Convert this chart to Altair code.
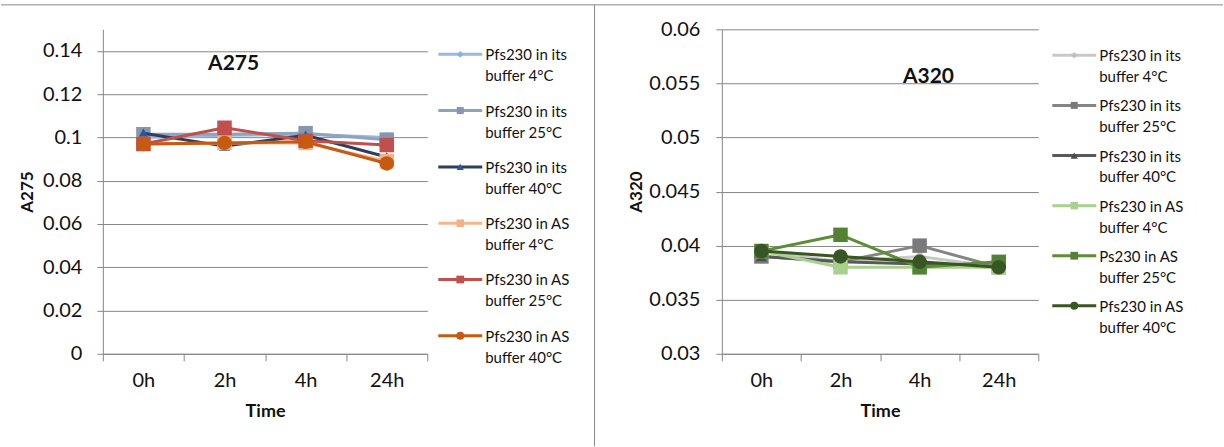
import altair as alt
import pandas as pd

times = ["0h", "2h", "4h", "24h"]

labels_275 = [
    "Pfs230 in its\nbuffer 4°C",
    "Pfs230 in its\nbuffer 25°C",
    "Pfs230 in its\nbuffer 40°C",
    "Pfs230 in AS\nbuffer 4°C",
    "Pfs230 in AS\nbuffer 25°C",
    "Pfs230 in AS\nbuffer 40°C",
]
labels_320 = [
    "Pfs230 in its\nbuffer 4°C",
    "Pfs230 in its\nbuffer 25°C",
    "Pfs230 in its\nbuffer 40°C",
    "Pfs230 in AS\nbuffer 4°C",
    "Ps230 in AS\nbuffer 25°C",
    "Pfs230 in AS\nbuffer 40°C",
]

# A275 values
a275_its_4 = [0.100, 0.101, 0.1015, 0.100]
a275_its_25 = [0.1015, 0.1015, 0.102, 0.099]
a275_its_40 = [0.102, 0.096, 0.101, 0.091]
a275_as_4 = [0.097, 0.0975, 0.0975, 0.089]
a275_as_25 = [0.097, 0.1045, 0.0985, 0.0965]
a275_as_40 = [0.097, 0.0975, 0.098, 0.088]

# A320 values
a320_its_4 = [0.0395, 0.0385, 0.039, 0.038]
a320_its_25 = [0.039, 0.0385, 0.040, 0.038]
a320_its_40 = [0.039, 0.0385, 0.0383, 0.038]
a320_as_4 = [0.0395, 0.038, 0.038, 0.038]
a320_as_25 = [0.0395, 0.041, 0.038, 0.0385]
a320_as_40 = [0.0395, 0.039, 0.0385, 0.038]

ticks_275 = [0, 0.02, 0.04, 0.06, 0.08, 0.1, 0.12, 0.14]
ticks_320 = [0.03, 0.035, 0.04, 0.045, 0.05, 0.055, 0.06]

# styles
line_275 = ["#9AB8E2", "#8FA3BD", "#2E3E5A", "#F8B68C", "#C0504D", "#C55A11"]
mark_275 = ["#8EB0E0", "#8496B0", "#2F5597", "#F4B183", "#C0504D", "#C55A11"]
line_320 = ["#C8C8C8", "#858585", "#595959", "#A9D18E", "#5C8E34", "#38561F"]
mark_320 = ["#C0C0C0", "#7A7A7A", "#4D4D4D", "#A9D18E", "#548235", "#375623"]
shapes = ["diamond", "square", "triangle-up", "square", "square", "circle"]
plot_sizes = [120, 210, 120, 210, 210, 210]
legend_sizes = [45, 64, 50, 64, 64, 70]

FONT = "Lato"
GRID = "#868686"
TXT = "#111111"


def panel(labels, series_vals, line_cols, mark_cols, ydomain, yticks, ytitle,
          title_text, W, H, title_xy, leg_x, leg_range, ylab_pad, ytitle_pad,
          borders=False):
    rows = []
    for lab, vals in zip(labels, series_vals):
        for t, v in zip(times, vals):
            rows.append({"series": lab, "time": t, "value": v})
    df = pd.DataFrame(rows)

    x_enc = alt.X(
        "time:N",
        bandPosition=0.5,
        scale=alt.Scale(type="band", domain=times, paddingInner=0, paddingOuter=0),
        axis=alt.Axis(
            title="Time", labelAngle=0, tickBand="extent", grid=False,
            domainColor=GRID, tickColor=GRID, tickSize=7,
            labelFont=FONT, labelFontSize=20, labelColor=TXT, labelPadding=10,
            titleFont=FONT, titleFontSize=18, titleFontWeight="bold",
            titleColor=TXT, titlePadding=12,
        ),
    )
    y_enc = alt.Y(
        "value:Q",
        scale=alt.Scale(domain=ydomain, nice=False, zero=False),
        axis=alt.Axis(
            values=yticks, format="~g", grid=True, gridColor=GRID, gridOpacity=1,
            domainColor=GRID, tickColor=GRID, tickSize=6,
            labelFont=FONT, labelFontSize=20, labelColor=TXT, labelPadding=ylab_pad,
            title=ytitle, titleFont=FONT, titleFontSize=17, titleFontWeight="bold",
            titleColor=TXT, titlePadding=ytitle_pad,
        ),
    )
    base = alt.Chart(df)
    data_layers = []
    for i, lab in enumerate(labels):
        sub = base.transform_filter(alt.datum.series == lab)
        data_layers.append(
            sub.mark_line(color=line_cols[i], strokeWidth=3, strokeJoin="round")
            .encode(x=x_enc, y=y_enc)
        )
        data_layers.append(
            sub.mark_point(shape=shapes[i], filled=True, fill=mark_cols[i],
                           opacity=1, size=plot_sizes[i], strokeWidth=0)
            .encode(x=x_enc, y=y_enc)
        )

    title_layer = alt.Chart(pd.DataFrame({"t": [title_text]})).mark_text(
        font=FONT, fontSize=21, fontWeight="bold", color=TXT
    ).encode(x=alt.value(title_xy[0]), y=alt.value(title_xy[1]), text="t:N")
    data_layers.append(title_layer)

    if borders:
        one = alt.Chart(pd.DataFrame({"k": [0]}))
        data_layers.append(
            one.mark_rule(color="#8A8A8A", strokeWidth=1).encode(
                x=alt.value(-102), x2=alt.value(1122), y=alt.value(-24.5)
            )
        )
        data_layers.append(
            one.mark_rule(color="#8A8A8A", strokeWidth=1).encode(
                x=alt.value(492.5), y=alt.value(-24.5), y2=alt.value(417.5)
            )
        )

    leg_df = pd.DataFrame({"series": labels})
    ly = alt.Y("series:N", scale=alt.Scale(type="point", domain=labels,
                                           range=leg_range, padding=0), axis=None)
    lcol = alt.Color("series:N", scale=alt.Scale(domain=labels, range=line_cols), legend=None)
    lfill = alt.Fill("series:N", scale=alt.Scale(domain=labels, range=mark_cols), legend=None)
    lshape = alt.Shape("series:N", scale=alt.Scale(domain=labels, range=shapes), legend=None)
    lsize = alt.Size("series:N", scale=alt.Scale(domain=labels, range=legend_sizes), legend=None)
    lb = alt.Chart(leg_df)
    legend_layers = [
        lb.mark_rule(strokeWidth=3).encode(
            x=alt.value(leg_x), x2=alt.value(leg_x + 44), y=ly, color=lcol
        ),
        lb.mark_point(filled=True, opacity=1, strokeWidth=0).encode(
            x=alt.value(leg_x + 22), y=ly, fill=lfill, shape=lshape, size=lsize
        ),
        lb.mark_text(font=FONT, fontSize=15, color=TXT, align="left",
                     baseline="top", dy=-6, lineBreak="\n", lineHeight=21).encode(
            x=alt.value(leg_x + 47), y=ly, text="series:N"
        ),
    ]

    return alt.layer(
        alt.layer(*data_layers), alt.layer(*legend_layers)
    ).resolve_scale(y="independent").properties(width=W, height=H)


left = panel(
    labels_275,
    [a275_its_4, a275_its_25, a275_its_40, a275_as_4, a275_as_25, a275_as_40],
    line_275, mark_275, [0, 0.15], ticks_275, "A275", "A275",
    325, 325, (131, 35), 336, [25, 307], 15, 6, borders=True,
)
right = panel(
    labels_320,
    [a320_its_4, a320_its_25, a320_its_40, a320_as_4, a320_as_25, a320_as_40],
    line_320, mark_320, [0.03, 0.06], ticks_320, "A320", "A320",
    317, 325, (207, 48), 331, [26, 277], 16, 3,
)

chart = alt.hconcat(left, right, spacing=295, bounds="flush").resolve_scale(
    color="independent", fill="independent", shape="independent", size="independent"
).properties(
    padding={"left": 0, "top": 4, "right": 0, "bottom": 0},
    background="white",
).configure_view(stroke=None)

chart.save("out.html", embed_options={"renderer": "svg", "actions": False})
